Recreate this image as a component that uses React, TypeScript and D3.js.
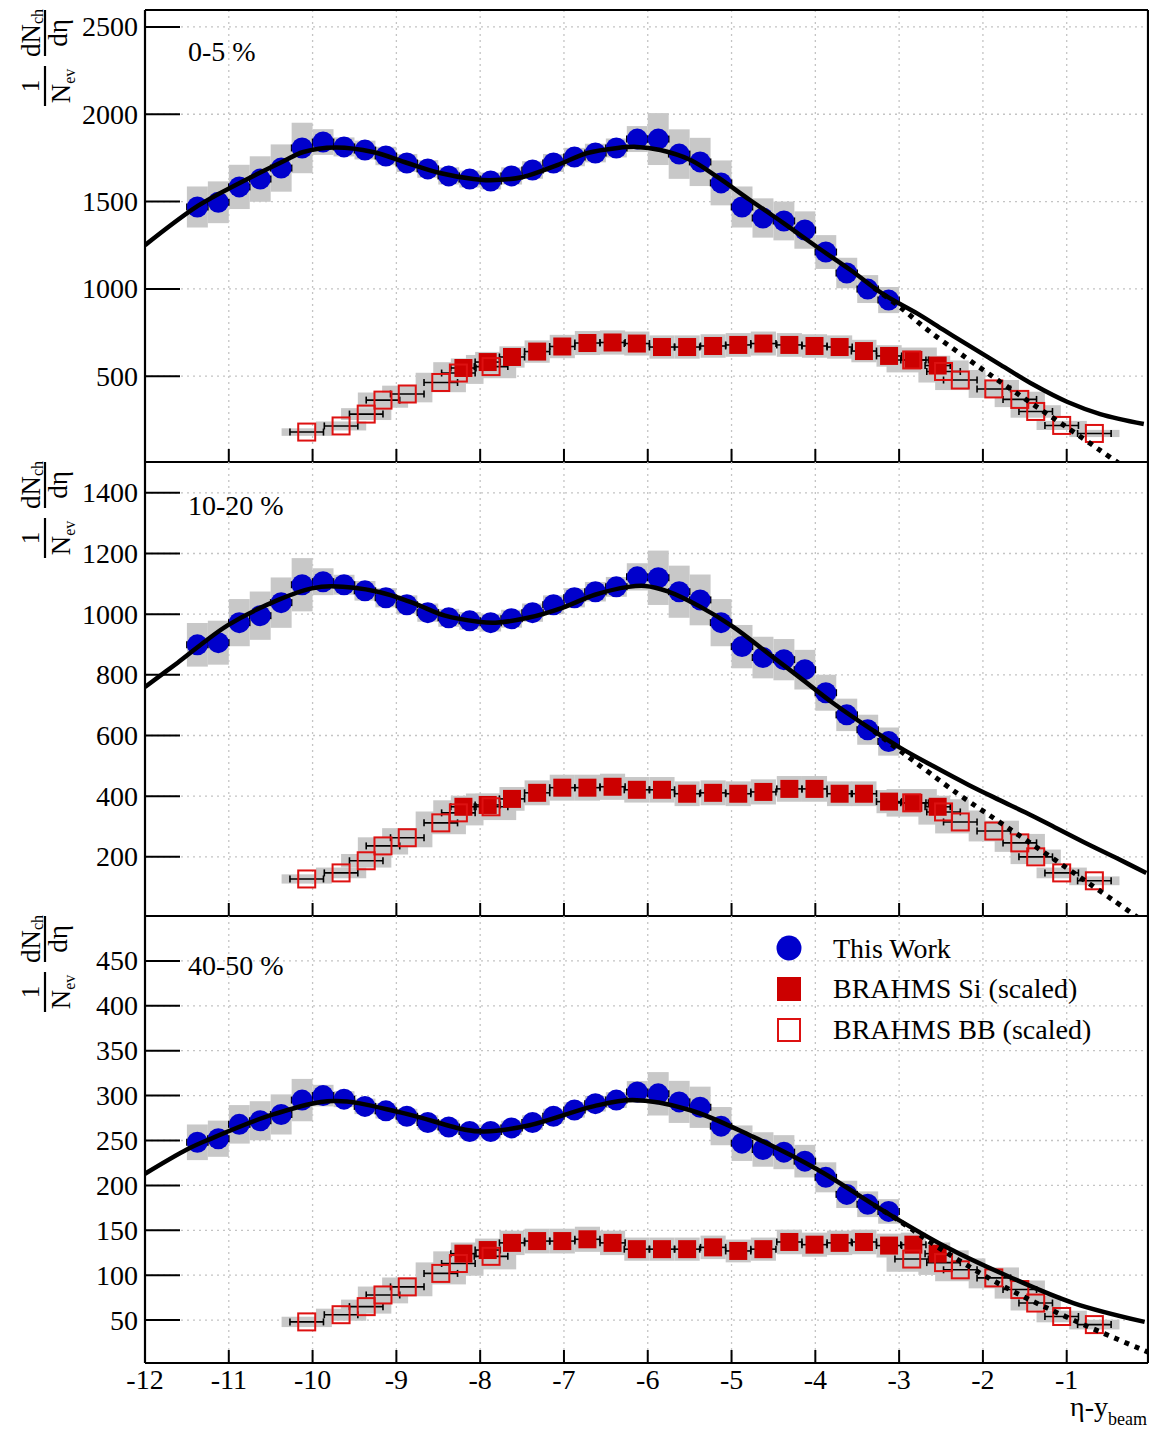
import React from "react";
import * as d3 from "d3";

// ---------------- data ----------------
const X_THIS_WORK = [-11.375, -11.125, -10.875, -10.625, -10.375, -10.125, -9.875, -9.625, -9.375, -9.125, -8.875, -8.625, -8.375, -8.125, -7.875, -7.625, -7.375, -7.125, -6.875, -6.625, -6.375, -6.125, -5.875, -5.625, -5.375, -5.125, -4.875, -4.625, -4.375, -4.125, -3.875, -3.625, -3.375, -3.125];
const THIS_WORK_0_5 = [1469, 1496, 1584, 1629, 1692, 1807, 1841, 1813, 1795, 1761, 1721, 1687, 1647, 1629, 1618, 1647, 1681, 1721, 1755, 1778, 1807, 1858, 1858, 1772, 1727, 1607, 1469, 1406, 1389, 1337, 1211, 1091, 999, 936];
const THIS_WORK_10_20 = [899, 906, 972, 995, 1038, 1097, 1107, 1097, 1077, 1054, 1031, 1005, 988, 978, 972, 985, 1005, 1031, 1054, 1074, 1090, 1123, 1120, 1074, 1047, 972, 893, 857, 850, 817, 741, 668, 619, 580];
const THIS_WORK_40_50 = [248, 252, 268, 272, 279, 295, 300, 296, 288, 283, 277, 270, 265, 260, 260, 264, 270, 277, 284, 291, 295, 304, 302, 293, 287, 266, 247, 240, 237, 227, 209, 190, 179, 171];
const THIS_WORK_SYS = [0.08, 0.08, 0.08, 0.08, 0.08, 0.08, 0.04, 0.03, 0.03, 0.03, 0.03, 0.03, 0.03, 0.03, 0.03, 0.03, 0.03, 0.03, 0.03, 0.03, 0.03, 0.04, 0.08, 0.08, 0.08, 0.08, 0.08, 0.08, 0.08, 0.08, 0.08, 0.08, 0.08, 0.08];

const X_SI = [-8.2, -7.91, -7.62, -7.32, -7.02, -6.72, -6.42, -6.13, -5.83, -5.53, -5.22, -4.92, -4.62, -4.31, -4.01, -3.71, -3.42, -3.12, -2.83, -2.54];
const SI_0_5 = [547, 581, 610, 641, 670, 690, 693, 687, 667, 667, 673, 679, 687, 679, 673, 667, 644, 616, 593, 561];
const SI_10_20 = [365, 371, 391, 411, 428, 428, 431, 421, 421, 408, 411, 408, 414, 424, 424, 408, 408, 382, 378, 365];
const SI_40_50 = [124, 128, 136, 138, 138, 140, 136, 129, 129, 129, 131, 127, 129, 137, 134, 136, 137, 133, 134, 124];
const SI_SYS = 0.1;

const X_BB = [-10.07, -9.66, -9.36, -9.16, -8.87, -8.47, -8.26, -7.87, -2.85, -2.47, -2.27, -1.87, -1.56, -1.37, -1.06, -0.67];
const BB_0_5 = [180, 215, 283, 363, 398, 464, 518, 555, 593, 527, 478, 427, 367, 298, 218, 172];
const BB_10_20 = [127, 147, 187, 236, 263, 312, 345, 365, 378, 348, 315, 285, 246, 200, 147, 121];
const BB_40_50 = [48, 56, 65, 78, 87, 102, 113, 121, 118, 114, 106, 97, 84, 69, 54, 45];
const BB_SYS = 0.12;

const FIT_X_0_5 = [-12.0, -11.37, -10.87, -10.39, -10.11, -9.73, -9.28, -8.87, -8.48, -8.08, -7.88, -7.49, -7.08, -6.72, -6.36, -6.13, -5.85, -5.49, -5.17, -4.78, -4.38, -3.98, -3.58, -3.19, -2.78, -2.47, -2.19, -1.79, -1.4, -0.99, -0.6, -0.08];
const FIT_Y_0_5 = [1250, 1475, 1607, 1721, 1784, 1810, 1784, 1721, 1664, 1629, 1622, 1641, 1709, 1778, 1807, 1813, 1795, 1738, 1641, 1509, 1377, 1240, 1108, 970, 858, 765, 682, 565, 452, 352, 283, 226];
const EXT_X_0_5 = [-3.3, -3.0, -2.66, -2.2, -1.8, -1.4, -1.0, -0.6, -0.3];
const EXT_Y_0_5 = [1005, 900, 765, 605, 470, 338, 208, 75, -25];

const FIT_X_10_20 = [-12.0, -11.61, -11.01, -10.41, -10.01, -9.77, -9.22, -8.81, -8.42, -8.02, -7.82, -7.43, -7.02, -6.63, -6.23, -6.03, -5.77, -5.37, -4.98, -4.57, -4.18, -3.79, -3.38, -2.99, -2.6, -2.17, -1.8, -1.49, -1.14, -0.8, -0.4, -0.05];
const FIT_Y_10_20 = [760, 840, 964, 1047, 1085, 1092, 1074, 1038, 995, 975, 972, 988, 1021, 1064, 1090, 1093, 1076, 1024, 958, 872, 790, 707, 629, 560, 500, 437, 387, 346, 297, 249, 195, 147];
const EXT_X_10_20 = [-3.3, -3.0, -2.31, -1.83, -1.49, -1.14, -0.8, -0.46, -0.1];
const EXT_Y_10_20 = [614, 552, 410, 320, 256, 190, 125, 60, -10];

const FIT_X_40_50 = [-12.0, -11.5, -11.24, -10.47, -9.75, -8.94, -8.18, -7.95, -7.41, -6.65, -6.18, -5.5, -4.74, -3.98, -3.21, -2.45, -1.68, -0.92, -0.07];
const FIT_Y_40_50 = [213, 240, 251, 279, 294, 281, 262, 260, 267, 288, 295, 284, 254, 218, 173, 132, 98, 69, 48];
const EXT_X_40_50 = [-3.3, -2.99, -2.45, -1.68, -0.92, -0.02];
const EXT_Y_40_50 = [178, 160, 126, 84, 50, 14];

const Y_TICKS_0_5 = [500, 1000, 1500, 2000, 2500];
const Y_TICKS_10_20 = [200, 400, 600, 800, 1000, 1200, 1400];
const Y_TICKS_40_50 = [50, 100, 150, 200, 250, 300, 350, 400, 450];
const X_TICKS = [-12, -11, -10, -9, -8, -7, -6, -5, -4, -3, -2, -1];
const PANEL_LABELS = ["0-5 %", "10-20 %", "40-50 %"];
const LEGEND_LABELS = ["This Work", "BRAHMS Si (scaled)", "BRAHMS BB (scaled)"];

// ---------------- styling ----------------
const BLUE = "#0000cc";
const RED = "#cc0000";
const RED_OPEN = "#dd1111";
const GRAY = "#c8c8c8";
const GRID = "#c4c4c4";
const FONT = "'Liberation Serif', 'Times New Roman', serif";
const FRAME_L = 145;
const FRAME_R = 1148;

const PANELS = [
  { top: 10, bottom: 462, r0: 463.5, r1: 9.5, yMax: 2600, ticks: Y_TICKS_0_5, tw: THIS_WORK_0_5, si: SI_0_5, bb: BB_0_5, fx: FIT_X_0_5, fy: FIT_Y_0_5, ex: EXT_X_0_5, ey: EXT_Y_0_5, label: PANEL_LABELS[0], labelY: 61 },
  { top: 462, bottom: 916, r0: 917.5, r1: 462.5, yMax: 1500, ticks: Y_TICKS_10_20, tw: THIS_WORK_10_20, si: SI_10_20, bb: BB_10_20, fx: FIT_X_10_20, fy: FIT_Y_10_20, ex: EXT_X_10_20, ey: EXT_Y_10_20, label: PANEL_LABELS[1], labelY: 515 },
  { top: 916, bottom: 1363, r0: 1365, r1: 916, yMax: 500, ticks: Y_TICKS_40_50, tw: THIS_WORK_40_50, si: SI_40_50, bb: BB_40_50, fx: FIT_X_40_50, fy: FIT_Y_40_50, ex: EXT_X_40_50, ey: EXT_Y_40_50, label: PANEL_LABELS[2], labelY: 975 },
];

const xs = d3.scaleLinear().domain([-12, 0]).range([145, 1150.5]);

function YLabel({ cy }: { cy: number }) {
  return (
    <g transform={`translate(45,${cy}) rotate(-90)`} fontFamily={FONT} fill="#000">
      <line x1={4} x2={50} y1={0} y2={0} stroke="#000" strokeWidth={2.2} />
      <text x={27} y={-5} fontSize={27} textAnchor="middle">
        dN<tspan fontSize={16} dy={3}>ch</tspan>
      </text>
      <text x={27} y={22} fontSize={27} textAnchor="middle">dη</text>
      <line x1={-6} x2={-46} y1={0} y2={0} stroke="#000" strokeWidth={2.2} />
      <text x={-26} y={-6} fontSize={25} textAnchor="middle">1</text>
      <text x={-26} y={25} fontSize={27} textAnchor="middle">
        N<tspan fontSize={16} dy={5}>ev</tspan>
      </text>
    </g>
  );
}

function Panel({ p, i }: { p: any; i: number }) {
  const ys = d3.scaleLinear().domain([0, p.yMax]).range([p.r0, p.r1]);
  const clipId = `clip${i}`;
  const line = d3
    .line<number>()
    .x((_, k) => xs(p.fx[k]))
    .y((d) => ys(d))
    .curve(d3.curveCatmullRom.alpha(0.5));
  const ext = d3
    .line<number>()
    .x((_, k) => xs(p.ex[k]))
    .y((d) => ys(d))
    .curve(d3.curveCatmullRom.alpha(0.5));
  const cap = 3.5;
  const ebar = (x: number, y: number, dx: number, key: string) => (
    <g key={key} stroke="#000" strokeWidth={1.6}>
      <line x1={xs(x - dx)} x2={xs(x + dx)} y1={ys(y)} y2={ys(y)} />
      <line x1={xs(x - dx)} x2={xs(x - dx)} y1={ys(y) - cap} y2={ys(y) + cap} />
      <line x1={xs(x + dx)} x2={xs(x + dx)} y1={ys(y) - cap} y2={ys(y) + cap} />
    </g>
  );
  return (
    <g>
      <defs>
        <clipPath id={clipId}>
          <rect x={FRAME_L} y={p.top} width={FRAME_R - FRAME_L} height={p.bottom - p.top} />
        </clipPath>
      </defs>
      {/* grid */}
      <g stroke={GRID} strokeWidth={1.3} strokeDasharray="2 4">
        {X_TICKS.filter((t) => t > -12).map((t) => (
          <line key={`gx${t}`} x1={xs(t)} x2={xs(t)} y1={p.top} y2={p.bottom} />
        ))}
        {p.ticks.map((t: number) => (
          <line key={`gy${t}`} x1={FRAME_L} x2={FRAME_R} y1={ys(t)} y2={ys(t)} />
        ))}
      </g>
      <g clipPath={`url(#${clipId})`}>
        {/* systematic boxes */}
        <g fill={GRAY}>
          {p.bb.map((v: number, k: number) => (
            <rect key={`bbs${k}`} x={xs(X_BB[k] - 0.3)} width={xs(X_BB[k] + 0.3) - xs(X_BB[k] - 0.3)} y={ys(v * (1 + BB_SYS))} height={ys(v * (1 - BB_SYS)) - ys(v * (1 + BB_SYS))} />
          ))}
          {p.si.map((v: number, k: number) => (
            <rect key={`sis${k}`} x={xs(X_SI[k] - 0.15)} width={xs(X_SI[k] + 0.15) - xs(X_SI[k] - 0.15)} y={ys(v * (1 + SI_SYS))} height={ys(v * (1 - SI_SYS)) - ys(v * (1 + SI_SYS))} />
          ))}
          {p.tw.map((v: number, k: number) => (
            <rect key={`tws${k}`} x={xs(X_THIS_WORK[k] - 0.125)} width={xs(X_THIS_WORK[k] + 0.125) - xs(X_THIS_WORK[k] - 0.125)} y={ys(v * (1 + THIS_WORK_SYS[k]))} height={ys(v * (1 - THIS_WORK_SYS[k])) - ys(v * (1 + THIS_WORK_SYS[k]))} />
          ))}
        </g>
        {/* error bars */}
        {p.tw.map((v: number, k: number) => ebar(X_THIS_WORK[k], v, 0.125, `twe${k}`))}
        {p.si.map((v: number, k: number) => ebar(X_SI[k], v, 0.15, `sie${k}`))}
        {p.bb.map((v: number, k: number) => ebar(X_BB[k], v, 0.2, `bbe${k}`))}
        {/* markers */}
        {p.tw.map((v: number, k: number) => (
          <circle key={`tw${k}`} cx={xs(X_THIS_WORK[k])} cy={ys(v)} r={10.5} fill={BLUE} />
        ))}
        {p.si.map((v: number, k: number) => (
          <rect key={`si${k}`} x={xs(X_SI[k]) - 9} y={ys(v) - 9} width={18} height={18} fill={RED} />
        ))}
        {p.bb.map((v: number, k: number) => (
          <rect key={`bb${k}`} x={xs(X_BB[k]) - 8.5} y={ys(v) - 8.5} width={17} height={17} fill="none" stroke={RED_OPEN} strokeWidth={2} />
        ))}
        {/* curves */}
        <path d={line(p.fy) || ""} fill="none" stroke="#000" strokeWidth={4.5} />
        <path d={ext(p.ey) || ""} fill="none" stroke="#000" strokeWidth={5} strokeDasharray="5 6" />
      </g>
      {/* ticks */}
      <g stroke="#000" strokeWidth={2}>
        {p.ticks.map((t: number) => (
          <line key={`ty${t}`} x1={FRAME_L} x2={FRAME_L + 35} y1={ys(t)} y2={ys(t)} />
        ))}
        {X_TICKS.filter((t) => t > -12).map((t) => (
          <line key={`tx${t}`} x1={xs(t)} x2={xs(t)} y1={p.bottom} y2={p.bottom - 13} />
        ))}
      </g>
      <g fontFamily={FONT} fontSize={28} textAnchor="end" fill="#000">
        {p.ticks.map((t: number) => (
          <text key={`ly${t}`} x={138} y={ys(t) + 9.5}>
            {t}
          </text>
        ))}
      </g>
      <text x={188} y={p.labelY} fontFamily={FONT} fontSize={28} fill="#000">
        {p.label}
      </text>
      <YLabel cy={p.top + 50} />
      {/* frame */}
      <line x1={FRAME_L} x2={FRAME_R} y1={p.bottom} y2={p.bottom} stroke="#000" strokeWidth={2.2} />
    </g>
  );
}

export default function App() {
  return (
    <svg width={1149} height={1429} style={{ position: "absolute", left: 0, top: 0, background: "#fff" }}>
      <rect x={0} y={0} width={1149} height={1429} fill="#fff" />
      {PANELS.map((p, i) => (
        <Panel key={i} p={p} i={i} />
      ))}
      {/* outer frame */}
      <line x1={FRAME_L} x2={FRAME_R} y1={10} y2={10} stroke="#000" strokeWidth={2.2} />
      <line x1={FRAME_L} x2={FRAME_L} y1={10} y2={1363} stroke="#000" strokeWidth={2.2} />
      <line x1={FRAME_R} x2={FRAME_R} y1={10} y2={1363} stroke="#000" strokeWidth={2.2} />
      {/* x tick labels */}
      <g fontFamily={FONT} fontSize={28} textAnchor="middle" fill="#000">
        {X_TICKS.map((t) => (
          <text key={`lx${t}`} x={xs(t)} y={1389}>
            {t}
          </text>
        ))}
      </g>
      <text x={1147} y={1416} fontFamily={FONT} fontSize={28} textAnchor="end" fill="#000">
        η-y<tspan fontSize={18} dy={9}>beam</tspan>
      </text>
      {/* legend */}
      <g fontFamily={FONT} fontSize={28} fill="#000">
        <circle cx={789} cy={948} r={12.5} fill={BLUE} />
        <rect x={777} y={977} width={24} height={24} fill={RED} />
        <rect x={778} y={1019} width={22} height={22} fill="#fff" stroke={RED_OPEN} strokeWidth={2} />
        <text x={833} y={958}>{LEGEND_LABELS[0]}</text>
        <text x={833} y={998}>{LEGEND_LABELS[1]}</text>
        <text x={833} y={1039}>{LEGEND_LABELS[2]}</text>
      </g>
    </svg>
  );
}
